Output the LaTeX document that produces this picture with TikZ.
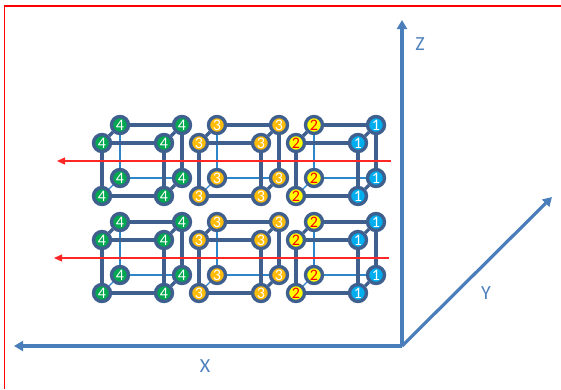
\documentclass[tikz,border=0pt]{standalone}
\usepackage{fontspec}
\setmainfont{Carlito}
\usetikzlibrary{arrows.meta}
\definecolor{edgeblue}{HTML}{3F5F8E}
\definecolor{thinblue}{HTML}{2E86C8}
\definecolor{axisblue}{HTML}{4A7EBB}
\definecolor{labelblue}{HTML}{4F81BD}
\definecolor{cgreen}{HTML}{00A850}
\definecolor{corange}{HTML}{FFBC08}
\definecolor{cyellow}{HTML}{FFFF00}
\definecolor{cblue}{HTML}{00AEEF}
\tikzset{
  ball/.style={circle,draw=edgeblue,line width=3.4pt,minimum size=17pt,inner sep=0pt,font=\fontsize{16}{16}\selectfont},
  ball4/.style={ball,fill=cgreen,text=white},
  ball3/.style={ball,fill=corange,text=white},
  ball2/.style={ball,fill=cyellow,text=red},
  ball1/.style={ball,fill=cblue,text=white},
  thick edge/.style={draw=edgeblue,line width=3.2pt},
  thin edge/.style={draw=thinblue,line width=1.1pt},
  axis/.style={draw=axisblue,line width=3.2pt,-{Triangle[length=9pt,width=10pt]}},
  beam/.style={draw=red!85!white,line width=1.3pt,-{Triangle[length=8pt,width=7pt]}},
  axis label/.style={text=labelblue,font=\fontsize{20}{20}\selectfont,inner sep=0pt},
  frame line/.style={draw=red,line width=1.2pt}
}
\begin{document}
\begin{tikzpicture}[x=1pt,y=-1pt]
\useasboundingbox (0,0) rectangle (561,389);
\coordinate (fa) at (561,6);
\coordinate (fb) at (4.5,6);
\coordinate (fc) at (4.5,389);
\draw[frame line] (fa) -- (fb) -- (fc);
\foreach \lay/\yy in {A/0,B/97}{
 \foreach \dig/\dR/\xx in {4/4/0,3/3/97,2/1/194}{
  \node[ball\dig] (bl\lay\dig) at (120+\xx,178+\yy) {\dig};
  \node[ball\dR] (br\lay\dig) at (182+\xx,178+\yy) {\dR};
  \node[ball\dig] (tl\lay\dig) at (120+\xx,125+\yy) {\dig};
  \node[ball\dR] (tr\lay\dig) at (182+\xx,125+\yy) {\dR};
  \node[ball\dig] (fbl\lay\dig) at (102+\xx,196+\yy) {\dig};
  \node[ball\dR] (fbr\lay\dig) at (164+\xx,196+\yy) {\dR};
  \node[ball\dig] (ftl\lay\dig) at (102+\xx,143+\yy) {\dig};
  \node[ball\dR] (ftr\lay\dig) at (164+\xx,143+\yy) {\dR};
  \draw[thin edge] (tl\lay\dig) -- (bl\lay\dig);
  \draw[thin edge] (bl\lay\dig) -- (br\lay\dig);
  \draw[thin edge] (bl\lay\dig) -- (fbl\lay\dig);
  \draw[thick edge] (tl\lay\dig) -- (tr\lay\dig);
  \draw[thick edge] (ftl\lay\dig) -- (ftr\lay\dig);
  \draw[thick edge] (fbl\lay\dig) -- (fbr\lay\dig);
  \draw[thick edge] (ftl\lay\dig) -- (fbl\lay\dig);
  \draw[thick edge] (ftr\lay\dig) -- (fbr\lay\dig);
  \draw[thick edge] (tr\lay\dig) -- (br\lay\dig);
  \draw[thick edge] (tl\lay\dig) -- (ftl\lay\dig);
  \draw[thick edge] (tr\lay\dig) -- (ftr\lay\dig);
  \draw[thick edge] (br\lay\dig) -- (fbr\lay\dig);
 }
}
\coordinate (ra1) at (391,161);
\coordinate (ra2) at (57,161);
\coordinate (rb1) at (389,258);
\coordinate (rb2) at (54,258);
\draw[beam] (ra1) -- (ra2);
\draw[beam] (rb1) -- (rb2);
\coordinate (o) at (402,346);
\coordinate (xe) at (14,346);
\coordinate (ye) at (552,197);
\coordinate (ze) at (402,20);
\draw[axis] (o) -- (xe);
\draw[axis] (o) -- (ye);
\draw[axis] (o) -- (ze);
\node[axis label] (lz) at (420,44) {Z};
\node[axis label] (ly) at (486,293) {Y};
\node[axis label] (lx) at (205,366) {X};
\end{tikzpicture}
\end{document}
